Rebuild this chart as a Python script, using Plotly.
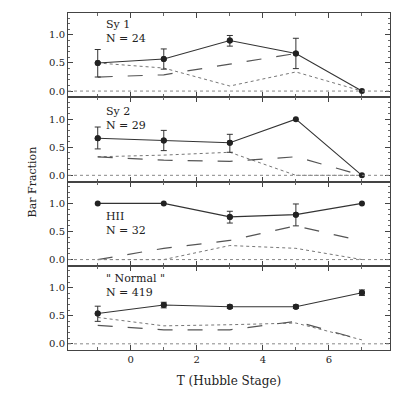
import plotly.graph_objects as go
from plotly.subplots import make_subplots

# Hubble stage bins
T = [-1, 1, 3, 5, 7]

panel_names = ["Sy 1", "Sy 2", "HII", "\" Normal \""]
panel_counts = [24, 29, 32, 419]

# bar fraction (solid), with error bars
bar_frac = [
    [0.50, 0.57, 0.90, 0.67, 0.00],
    [0.66, 0.62, 0.58, 1.00, 0.00],
    [1.00, 1.00, 0.76, 0.80, 1.00],
    [0.54, 0.69, 0.66, 0.66, 0.91],
]
err_hi = [
    [0.24, 0.18, 0.09, 0.27, 0.00],
    [0.20, 0.18, 0.15, 0.00, 0.00],
    [0.00, 0.00, 0.10, 0.19, 0.00],
    [0.13, 0.05, 0.03, 0.03, 0.05],
]
err_lo = [
    [0.25, 0.18, 0.10, 0.27, 0.00],
    [0.19, 0.18, 0.17, 0.00, 0.00],
    [0.00, 0.00, 0.11, 0.20, 0.00],
    [0.14, 0.05, 0.03, 0.03, 0.05],
]
# dashed and dotted curves
dashed = [
    [0.25, 0.29, 0.48, 0.67, None],
    [0.33, 0.27, 0.25, 0.33, 0.00],
    [0.00, 0.20, 0.34, 0.60, 0.33],
    [0.33, 0.25, 0.25, 0.40, 0.07],
]
dotted = [
    [0.50, 0.41, 0.09, 0.34, 0.00],
    [0.33, 0.36, 0.41, 0.00, 0.00],
    [0.00, 0.00, 0.25, 0.20, 0.00],
    [0.47, 0.32, 0.34, 0.37, 0.07],
]
label_y = [1.06, 1.02, 0.65, 1.04]

FONT = "DejaVu Serif"
INK = "#222"

fig = make_subplots(rows=4, cols=1, shared_xaxes=True, vertical_spacing=0)

for i in range(4):
    r = i + 1
    fig.add_trace(go.Scatter(x=T, y=dotted[i], mode="lines",
                             line=dict(color="#777", width=1, dash="dot")), row=r, col=1)
    fig.add_trace(go.Scatter(x=T, y=dashed[i], mode="lines",
                             line=dict(color="#555", width=1.2, dash="longdash")), row=r, col=1)
    fig.add_trace(go.Scatter(x=T, y=bar_frac[i], mode="lines+markers",
                             line=dict(color="#333", width=1.1),
                             marker=dict(color=INK, size=6)), row=r, col=1)
    # error bars only where there is an error
    idx = [k for k in range(len(T)) if err_hi[i][k] > 0 or err_lo[i][k] > 0]
    fig.add_trace(go.Scatter(x=[T[k] for k in idx], y=[bar_frac[i][k] for k in idx],
                             mode="markers", marker=dict(color=INK, size=6),
                             error_y=dict(type="data", symmetric=False,
                                          array=[err_hi[i][k] for k in idx],
                                          arrayminus=[err_lo[i][k] for k in idx],
                                          color="#333", thickness=1, width=3)), row=r, col=1)
    fig.add_hline(y=0, line=dict(color="#888", width=1, dash="dot"), row=r, col=1)
    fig.add_annotation(x=-0.8, y=label_y[i], xref="x%s" % ("" if r == 1 else r),
                       yref="y%s" % ("" if r == 1 else r),
                       text="%s<br>N = %d" % (panel_names[i], panel_counts[i]),
                       showarrow=False, xanchor="left", yanchor="middle", align="left",
                       font=dict(family=FONT, size=11, color=INK))
    fig.update_yaxes(range=[-0.11, 1.39], tickvals=[0, 0.5, 1.0], tickformat=".1f",
                     ticks="inside", ticklen=5, tickcolor="#444",
                     minor=dict(dtick=0.1, ticks="inside", ticklen=2, tickcolor="#666"),
                     showline=True, linecolor="#444", linewidth=1, mirror="ticks",
                     showgrid=False, zeroline=False,
                     tickfont=dict(family=FONT, size=10, color=INK), row=r, col=1)
    fig.update_xaxes(range=[-1.9, 7.85], tickvals=[0, 2, 4, 6],
                     ticks="inside", ticklen=5, tickcolor="#444",
                     minor=dict(dtick=1, ticks="inside", ticklen=3, tickcolor="#666"),
                     showline=True, linecolor="#444", linewidth=1, mirror="ticks",
                     showgrid=False, zeroline=False,
                     tickfont=dict(family=FONT, size=10, color=INK), row=r, col=1)

fig.update_xaxes(title=dict(text="T (Hubble Stage)", font=dict(family=FONT, size=12, color=INK),
                            standoff=12), row=4, col=1)

fig.add_annotation(x=-0.109, y=0.5, xref="paper", yref="paper", text="Bar Fraction",
                   textangle=-90, showarrow=False, xanchor="center", yanchor="middle",
                   font=dict(family=FONT, size=11, color=INK))

# page body has an 8px margin, so the figure is a bit smaller than the window
fig.update_layout(width=401, height=387, margin=dict(l=60, r=19, t=5, b=45),
                  plot_bgcolor="white", paper_bgcolor="white", showlegend=False)

fig.write_html("out.html")
